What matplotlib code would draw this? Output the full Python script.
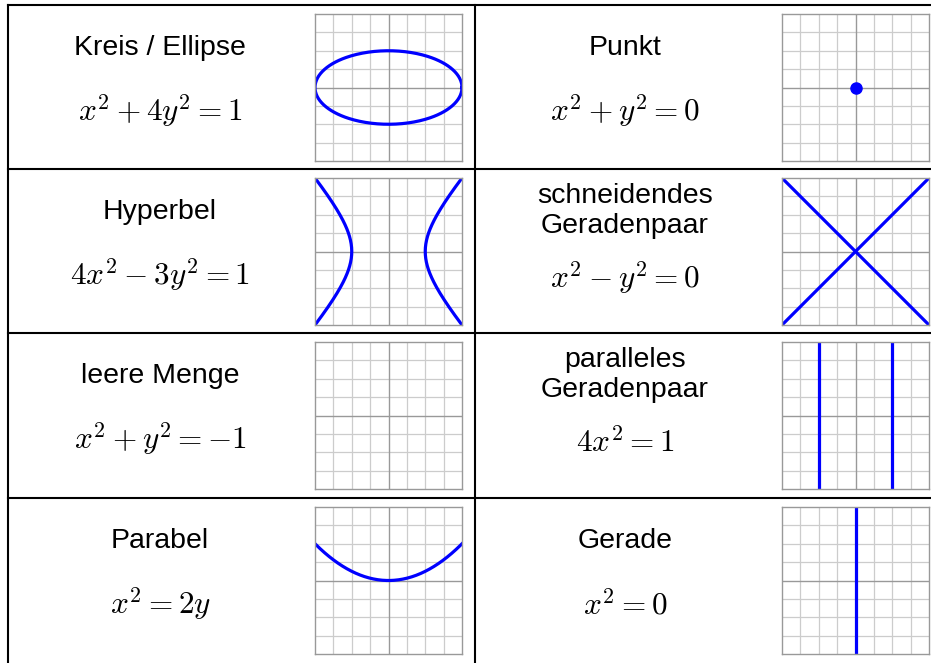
import numpy as np
import matplotlib
matplotlib.use("Agg")
import matplotlib.pyplot as plt
from matplotlib.lines import Line2D

plt.rcParams['font.family'] = ['Liberation Sans', 'DejaVu Sans']
plt.rcParams['mathtext.fontset'] = 'cm'

W, H = 931, 663

# table content, row by row (left cell, right cell)
names = [["Kreis / Ellipse", "Punkt"],
         ["Hyperbel", "schneidendes\nGeradenpaar"],
         ["leere Menge", "paralleles\nGeradenpaar"],
         ["Parabel", "Gerade"]]
equations = [[r"$x^2+4y^2=1$", r"$x^2+y^2=0$"],
             [r"$4x^2-3y^2=1$", r"$x^2-y^2=0$"],
             [r"$x^2+y^2=-1$", r"$4x^2=1$"],
             [r"$x^2=2y$", r"$x^2=0$"]]
kinds = [["ellipse", "point"],
         ["hyperbola", "cross"],
         ["empty", "parallel"],
         ["parabola", "line"]]

# equation coefficients
ell_a, ell_b = 1.0, 4.0      # x^2 + 4y^2 = 1
hyp_a, hyp_b = 4.0, 3.0      # 4x^2 - 3y^2 = 1
par_p = 2.0                  # x^2 = 2y
par_x = 0.5                  # 4x^2 = 1 -> x = +-0.5

row_lines = [5, 169, 333, 498]
col_x = [8, 475]
plot_left = [315, 782]
plot_w = 147
text_cx = [160, 625]

fig = plt.figure(figsize=(W / 100, H / 100), dpi=100)


def fx(x):
    return x / W


def fy(y):
    return 1 - y / H


# table borders
for y in row_lines:
    fig.add_artist(Line2D([fx(8), 1], [fy(y), fy(y)], color='black', lw=1.5))
for x in col_x:
    fig.add_artist(Line2D([fx(x), fx(x)], [fy(5), 0], color='black', lw=1.5))

blue = '#0000ff'
lw = 2.3

for r in range(4):
    top = row_lines[r]
    for c in range(2):
        ax = fig.add_axes([fx(plot_left[c]), fy(top + 9 + plot_w), plot_w / W, plot_w / H])
        ax.set_xlim(-1, 1)
        ax.set_ylim(-1, 1)
        ax.set_xticks([])
        ax.set_yticks([])
        for s in ax.spines.values():
            s.set_color('#999999')
            s.set_linewidth(1.0)
        for g in np.arange(-0.75, 1.0, 0.25):
            if abs(g) < 1e-9:
                continue
            ax.axvline(g, color='#cccccc', lw=0.9, zorder=0)
            ax.axhline(g, color='#cccccc', lw=0.9, zorder=0)
        ax.axvline(0, color='#999999', lw=1.0, zorder=1)
        ax.axhline(0, color='#999999', lw=1.0, zorder=1)

        k = kinds[r][c]
        if k == "ellipse":
            t = np.linspace(0, 2 * np.pi, 300)
            ax.plot(np.cos(t) / np.sqrt(ell_a), np.sin(t) / np.sqrt(ell_b), color=blue, lw=lw)
        elif k == "point":
            ax.plot([0], [0], 'o', color=blue, ms=8)
        elif k == "hyperbola":
            yy = np.linspace(-1, 1, 200)
            xx = np.sqrt((1 + hyp_b * yy ** 2) / hyp_a)
            ax.plot(xx, yy, color=blue, lw=lw)
            ax.plot(-xx, yy, color=blue, lw=lw)
        elif k == "cross":
            ax.plot([-1, 1], [-1, 1], color=blue, lw=lw)
            ax.plot([-1, 1], [1, -1], color=blue, lw=lw)
        elif k == "parallel":
            ax.axvline(-par_x, color=blue, lw=lw)
            ax.axvline(par_x, color=blue, lw=lw)
        elif k == "parabola":
            xx = np.linspace(-1, 1, 200)
            ax.plot(xx, xx ** 2 / par_p, color=blue, lw=lw)
        elif k == "line":
            ax.axvline(0, color=blue, lw=lw)

        lines = names[r][c].split("\n")
        if len(lines) == 1:
            fig.text(fx(text_cx[c]), fy(top + 50), lines[0], ha='center', va='baseline', fontsize=20.5)
            eq_y = top + 117
        else:
            fig.text(fx(text_cx[c]), fy(top + 34), lines[0], ha='center', va='baseline', fontsize=20.5)
            fig.text(fx(text_cx[c]), fy(top + 64), lines[1], ha='center', va='baseline', fontsize=20.5)
            eq_y = top + 120
        fig.text(fx(text_cx[c]), fy(eq_y), equations[r][c], ha='center', va='baseline', fontsize=22.5)

fig.savefig("out.png", dpi=100)
